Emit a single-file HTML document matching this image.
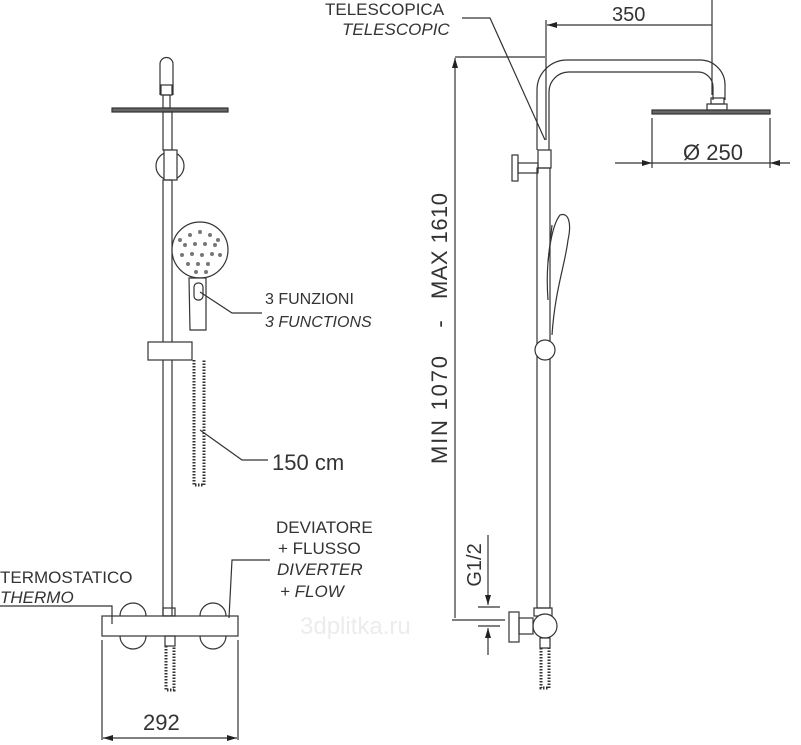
<!DOCTYPE html>
<html><head><style>
body{margin:0;background:#fff}
svg{display:block}
text{font-family:"Liberation Sans",sans-serif;fill:#333}
.i{font-style:italic}
</style></head><body>
<svg width="801" height="745" viewBox="0 0 801 745" xmlns="http://www.w3.org/2000/svg">
<defs>
<marker id="a" viewBox="0 0 10 6" refX="10" refY="3" markerWidth="10" markerHeight="6" orient="auto-start-reverse" markerUnits="userSpaceOnUse"><path d="M0,0L10,3L0,6z" fill="#222"/></marker>
</defs>
<g fill="none" stroke="#333" stroke-width="1.2">
<path d="M160,95V64a6.5,6.5 0 0 1 13,0V95"/>
<rect x="161" y="85" width="11" height="10"/>
<rect x="163" y="95" width="7" height="13"/>
<rect x="112" y="108" width="116" height="4" fill="#666"/>
<rect x="163" y="112" width="9" height="38"/>
<circle cx="170" cy="166" r="14"/>
<rect x="164" y="150" width="13" height="30" fill="#fff"/>
<rect x="163" y="180" width="9" height="436"/>
<circle cx="200" cy="250" r="28" fill="#fff"/>
<g fill="#777" stroke="none">
<circle cx="190" cy="235" r="2"/><circle cx="200" cy="232" r="2"/><circle cx="210" cy="235" r="2"/><circle cx="185" cy="245" r="2"/><circle cx="195" cy="244" r="2"/><circle cx="205" cy="244" r="2"/><circle cx="215" cy="245" r="2"/><circle cx="182" cy="255" r="2"/><circle cx="192" cy="254" r="2"/><circle cx="202" cy="255" r="2"/><circle cx="212" cy="254" r="2"/><circle cx="220" cy="255" r="2"/><circle cx="188" cy="264" r="2"/><circle cx="198" cy="264" r="2"/><circle cx="208" cy="264" r="2"/><circle cx="196" cy="272" r="2"/><circle cx="206" cy="272" r="2"/><circle cx="180" cy="240" r="2"/><circle cx="218" cy="240" r="2"/>
</g>
<path d="M189,278H206V330H190Z" fill="#fff"/>
<rect x="194" y="283" width="9" height="17" rx="4"/>
<rect x="148" y="342" width="44" height="18" fill="#fff"/>
<path d="M194,360V485H204V360" stroke-dasharray="1.5 1.5" stroke-width="3"/>
<rect x="102" y="616" width="136" height="20" fill="#fff"/>
<path d="M120,616a13,13 0 0 1 26,0M120,636a13,13 0 0 0 26,0M200,616a13,13 0 0 1 26,0M200,636a13,13 0 0 0 26,0"/>
<rect x="163" y="608" width="12" height="8"/>
<rect x="165" y="636" width="10" height="10"/>
<path d="M166,646V690H174V646" stroke-dasharray="1.5 1.5" stroke-width="3"/>
<path d="M102,640V740M238,640V740"/>
<path d="M103,738H237" marker-start="url(#a)" marker-end="url(#a)"/>
<path d="M200,292L232,313H262"/>
<path d="M200,430L242,460H268"/>
<path d="M229,618L232,560H270"/>
<path d="M0,606H112V624"/>
<path d="M537,150V90a30,30 0 0 1 30,-30H700a25,25 0 0 1 25,25V100M549,150V92a20,20 0 0 1 20,-20H698a15,15 0 0 1 15,15V100"/>
<rect x="711" y="98" width="13" height="6"/>
<rect x="707" y="104" width="20" height="6"/>
<rect x="652" y="110" width="118" height="4" fill="#666"/>
<rect x="538" y="150" width="13" height="18" fill="#fff"/>
<rect x="512" y="155" width="6" height="26"/>
<rect x="518" y="163" width="20" height="10"/>
<rect x="537" y="168" width="13" height="440"/>
<path d="M548,300C545,260 552,225 560,215C568,212 572,222 568,240C565,265 555,290 552,335"/>
<path d="M552,225L548,262"/>
<circle cx="545" cy="350" r="10" fill="#fff"/>
<rect x="534" y="608" width="18" height="8"/>
<circle cx="545" cy="626" r="12" fill="#fff"/>
<rect x="509" y="612" width="10" height="30"/>
<rect x="519" y="618" width="14" height="16"/>
<rect x="540" y="638" width="10" height="10"/>
<path d="M541,648V688H549V648" stroke-dasharray="1.5 1.5" stroke-width="3"/>
<path d="M546,20V140M712,0V95M455,57H545"/>
<path d="M547,25H712" marker-start="url(#a)"/>
<path d="M455,58V618" marker-start="url(#a)"/>
<path d="M452,620H505"/>
<path d="M488,535V605" marker-end="url(#a)"/>
<path d="M488,655V628" marker-end="url(#a)"/>
<path d="M478,607H500M478,626H500"/>
<path d="M652,118V168M770,118V168"/>
<path d="M615,163H652" marker-end="url(#a)"/>
<path d="M790,163H770" marker-end="url(#a)"/>
<path d="M652,163H770"/>
<path d="M462,18H490L545,140"/>
</g>
<text x="0" y="583" font-size="17">TERMOSTATICO</text>
<text x="0" y="603" font-size="17" class="i">THERMO</text>
<text x="265" y="304" font-size="16">3 FUNZIONI</text>
<text x="265" y="327" font-size="16" class="i">3 FUNCTIONS</text>
<text x="272" y="470" font-size="22">150 cm</text>
<text x="276" y="533" font-size="17">DEVIATORE</text>
<text x="278" y="554" font-size="17">+ FLUSSO</text>
<text x="277" y="575" font-size="17" class="i">DIVERTER</text>
<text x="280" y="597" font-size="17" class="i">+ FLOW</text>
<text x="143" y="730" font-size="22">292</text>
<text x="325" y="15" font-size="17">TELESCOPICA</text>
<text x="342" y="35" font-size="17" class="i">TELESCOPIC</text>
<text x="612" y="21" font-size="20">350</text>
<text x="683" y="160" font-size="22">Ø 250</text>
<g transform="translate(447,330) rotate(-90)" font-size="22">
<text x="-80" y="0" text-anchor="middle" textLength="108">MIN 1070</text>
<text x="6" y="0" text-anchor="middle">-</text>
<text x="84" y="0" text-anchor="middle" textLength="106">MAX 1610</text>
</g>
<text transform="translate(481,565) rotate(-90)" text-anchor="middle" font-size="20">G1/2</text>
<text x="300" y="634" font-size="24" style="fill:#ececec">3dplitka.ru</text>
</svg>
</body></html>
